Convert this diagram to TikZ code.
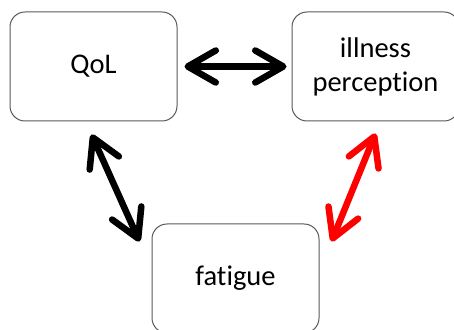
\documentclass[tikz,border=0pt]{standalone}
\usepackage{fontspec}
\setmainfont{Carlito}[Ligatures=NoCommon]
\usepackage{tikz}
\usetikzlibrary{arrows.meta}
\usetikzlibrary{calc}
\tikzset{factor/.style={draw=black!65,line width=1pt,rounded corners=15pt,
           minimum width=167pt,minimum height=109pt,align=center,
           font=\fontsize{28.5}{34}\selectfont}}
\tikzset{link/.style={line width=6.5pt,
           {Straight Barb[length=28pt,width=32pt,round]}-{Straight Barb[length=28pt,width=32pt,round]}}}

\begin{document}
\begin{tikzpicture}[x=1pt,y=1pt]
\useasboundingbox (0,0) rectangle (454,329);
\node[factor] (qol) at (93.5,262.5) {QoL};
\node[factor] (illness) at (375.5,262.5) {illness\\perception};
\node[factor] (fatigue) at (235.5,50.5) {fatigue};
\draw[link] ($(qol.east)+(7,0)$) -- ($(illness.west)+(-5,0)$);
\draw[link] ($(qol.south)+(-2,-13)$) -- ($(fatigue.north west)+(-12,-18)$);
\draw[link,red] ($(illness.south)+(0,-12)$) -- ($(fatigue.north east)+(12,-18)$);
\end{tikzpicture}
\end{document}
